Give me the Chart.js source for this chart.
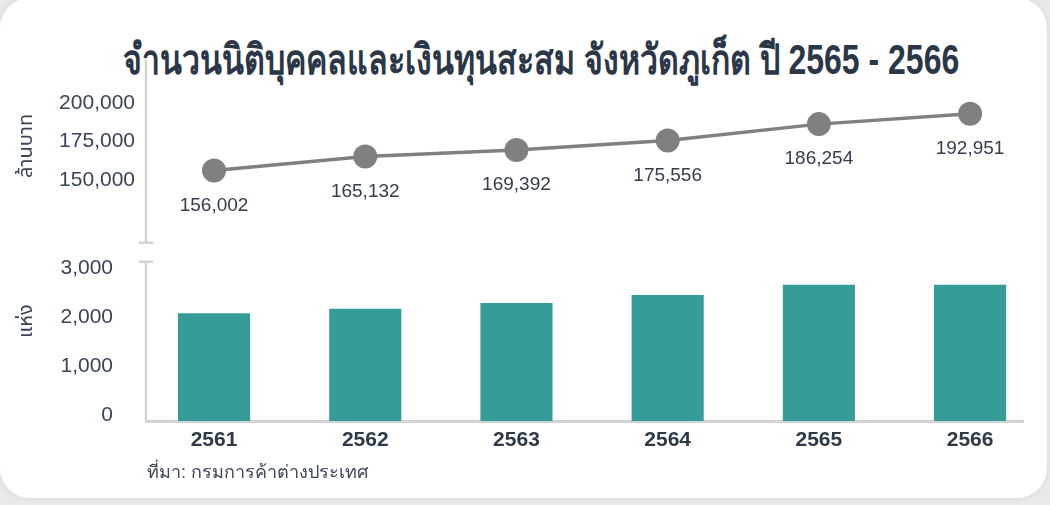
<!DOCTYPE html>
<html>
<head>
<meta charset="utf-8">
<script src="https://cdn.jsdelivr.net/npm/chart.js@4"></script>
<style>
  html, body { margin: 0; padding: 0; }
  body { width: 1050px; height: 505px; background: #e9e9e9; position: relative; overflow: hidden;
         font-family: "Liberation Sans", Arial, sans-serif; }
  #card { position: absolute; left: 0; top: -2px; width: 1047px; height: 500px; background: #fff;
          border-radius: 30px; box-shadow: 0 0 6px rgba(0,0,0,0.08); }
  #title { position: absolute; left: 0; width: 1082px; top: 34px; text-align: center;
           font-size: 32px; font-weight: bold; color: #2b3747; white-space: nowrap;
           transform: scaleY(1.3); transform-origin: 50% 50%; }
  #source { position: absolute; left: 147px; top: 457px; font-size: 18px; color: #3d4756; }
  #wrap { position: absolute; left: 0; top: 0; width: 1050px; height: 505px; }
</style>
</head>
<body>
<div id="card"></div>
<div id="title">จำนวนนิติบุคคลและเงินทุนสะสม จังหวัดภูเก็ต ปี 2565 - 2566</div>
<div id="wrap"><canvas id="myChart" width="1050" height="505"></canvas></div>
<div id="source">ที่มา: กรมการค้าต่างประเทศ</div>
<script>
// data
var years = [2561, 2562, 2563, 2564, 2565, 2566]
var capital = [156002, 165132, 169392, 175556, 186254, 192951]   // ล้านบาท
var companies = [2200, 2290, 2410, 2570, 2780, 2780]             // แห่ง
var capitalTicks = [150000, 175000, 200000]
var companyTicks = [0, 1000, 2000, 3000]
var capitalUnit = 'ล้านบาท'
var companyUnit = 'แห่ง'

var textColor = '#3a4556'
var axisColor = '#d3d3d3'
var thaiFont = '"Noto Sans Thai", "Noto Sans", sans-serif'
var numFont = '"Liberation Sans", Arial, sans-serif'

function fmt(v) { return v.toLocaleString('en-US') }

// y axis lines with the break marks between the two panels, plus the unit titles
const axisBreak = {
    id: 'axisBreak',
    afterDraw: (chart) => {
      const {ctx} = chart;
      const top = chart.scales.yCap, bot = chart.scales.yCnt;
      const x = chart.chartArea.left;
      const y1 = top.top, y2 = top.getPixelForValue(109000);
      const y3 = bot.getPixelForValue(3250), y4 = bot.bottom;
      ctx.save();
      ctx.strokeStyle = axisColor;
      ctx.lineWidth = 2.5;
      ctx.beginPath();
      ctx.moveTo(x, y1); ctx.lineTo(x, y2);
      ctx.moveTo(x - 7, y2); ctx.lineTo(x + 7, y2);
      ctx.moveTo(x - 7, y3); ctx.lineTo(x + 7, y3);
      ctx.moveTo(x, y3); ctx.lineTo(x, y4);
      ctx.stroke();

      // rotated unit titles
      ctx.fillStyle = textColor;
      ctx.font = '20px ' + thaiFont;
      ctx.textAlign = 'center';
      ctx.textBaseline = 'middle';
      [[top, capitalUnit, top.getPixelForValue(172000)], [bot, companyUnit, bot.getPixelForValue(2040)]].forEach(([s, t, yc]) => {
        ctx.save();
        ctx.translate(s.left + 15, yc);
        ctx.rotate(-Math.PI / 2);
        ctx.fillText(t, 0, 0);
        ctx.restore();
      });
      ctx.restore();
    }
};

// value labels under the line points
const pointLabels = {
    id: 'pointLabels',
    afterDatasetsDraw: (chart) => {
      const {ctx} = chart;
      const meta = chart.getDatasetMeta(0);
      ctx.save();
      ctx.fillStyle = '#333d4b';
      ctx.font = '19px ' + numFont;
      ctx.textAlign = 'center';
      ctx.textBaseline = 'middle';
      meta.data.forEach((pt, i) => {
        ctx.fillText(fmt(capital[i]), pt.x, pt.y + 35);
      });
      ctx.restore();
    }
};

new Chart(document.getElementById('myChart'), {
    data: {
        datasets: [
        {
            type: 'line',
            label: 'เงินทุนสะสม',
            yAxisID: 'yCap',
            data: years.map((y, i) => ({x: y, y: capital[i]})),
            borderColor: '#808080',
            backgroundColor: '#808080',
            borderWidth: 3.5,
            pointRadius: 12,
            pointHoverRadius: 12,
            pointBackgroundColor: '#808080',
            pointBorderWidth: 0,
            tension: 0,
        },
        {
            type: 'bar',
            label: 'จำนวนนิติบุคคล',
            yAxisID: 'yCnt',
            data: years.map((y, i) => ({x: y, y: companies[i]})),
            backgroundColor: '#369c97',
            categoryPercentage: 1,
            barPercentage: 0.477,
        },
    ]
    },
    options: {
        responsive: false,
        animation: false,
        events: [],
        layout: { padding: { top: 60, left: 13, right: 27, bottom: 44 } },
        plugins: {
            legend: { display: false },
            tooltip: { enabled: false },
            title: { display: false },
        },
        scales: {
            x: {
                type: 'linear',
                bounds: 'data',
                offset: false,
                min: 2560.55,
                max: 2566.35,
                grid: { display: false, drawTicks: false, offset: false },
                border: { display: true, color: axisColor, width: 3 },
                afterBuildTicks: (s) => { s.ticks = years.map(v => ({value: v})) },
                afterFit: (s) => { s.height = 40 },
                ticks: {
                    padding: 7,
                    color: '#2e3a48',
                    font: { size: 21, weight: 'bold', family: numFont },
                    callback: (v) => String(v),
                },
            },
            yCnt: {
                type: 'linear',
                position: 'left',
                stack: 'panels',
                stackWeight: 169,
                min: 0,
                max: 3450,
                grid: { display: false, drawTicks: false },
                border: { display: false },
                afterBuildTicks: (s) => { s.ticks = companyTicks.map(v => ({value: v})) },
                afterFit: (s) => { s.width = 133 },
                ticks: {
                    padding: 33,
                    labelOffset: -6,
                    color: textColor,
                    font: { size: 21, family: numFont },
                    callback: (v) => fmt(v),
                },
            },
            yCap: {
                type: 'linear',
                position: 'left',
                stack: 'panels',
                stackWeight: 192,
                min: 103000,
                max: 228000,
                grid: { display: false, drawTicks: false },
                border: { display: false },
                afterBuildTicks: (s) => { s.ticks = capitalTicks.map(v => ({value: v})) },
                afterFit: (s) => { s.width = 133 },
                ticks: {
                    padding: 11,
                    color: textColor,
                    font: { size: 21, family: numFont },
                    callback: (v) => fmt(v),
                },
            },
        },
    },
    plugins: [axisBreak, pointLabels],
});
</script>
</body>
</html>
